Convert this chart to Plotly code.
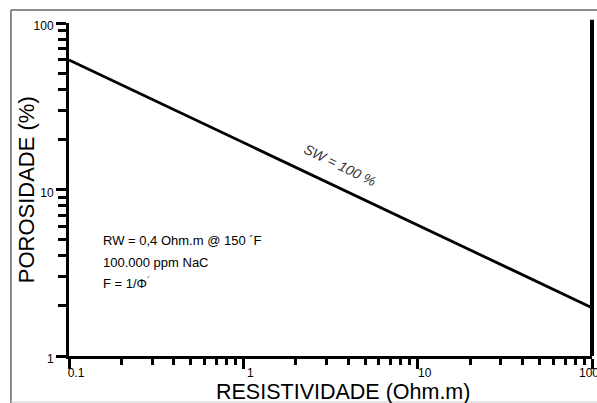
import plotly.graph_objects as go

# Data
resistividade = [0.1, 100]
porosidade = [60, 1.95]

x_tickvals = [0.1, 1, 10, 100]
x_ticktext = ["0.1", "1", "10", "100" + "\u00a0" * 6]
y_tickvals = [1, 10, 100]
y_ticktext = ["1", "10", "100"]

notes = ["RW = 0,4 Ohm.m @ 150 ´F", "100.000 ppm NaC", "F = 1/Φ<sup>´</sup>"]
note_y = [0.348, 0.282, 0.219]
line_label = "SW = 100 %"
x_title = "RESISTIVIDADE (Ohm.m)"
y_title = "POROSIDADE (%)"

FONT = "Liberation Sans, Arial"

fig = go.Figure()
fig.add_trace(go.Scatter(x=resistividade, y=porosidade, mode="lines",
                         line=dict(color="black", width=2.8), showlegend=False,
                         hoverinfo="skip"))

for t, yy in zip(notes, note_y):
    fig.add_annotation(x=0.061, y=yy, xref="paper", yref="paper", text=t, showarrow=False,
                       xanchor="left", yanchor="middle",
                       font=dict(family=FONT, size=13, color="black"))

fig.add_annotation(x=0.518, y=0.574, xref="paper", yref="paper", text="<i>" + line_label + "</i>",
                   showarrow=False, textangle=26,
                   font=dict(family=FONT, size=14, color="#333333"))

# axis titles
fig.add_annotation(x=0.524, y=-0.107, xref="paper", yref="paper", text=x_title, showarrow=False,
                   xanchor="center", yanchor="middle",
                   font=dict(family=FONT, size=21.5, color="black"))
fig.add_annotation(x=-0.082, y=0.498, xref="paper", yref="paper", text=y_title, showarrow=False,
                   xanchor="center", yanchor="middle", textangle=-90,
                   font=dict(family=FONT, size=22, color="black"))

axis_font = dict(family=FONT, size=12, color="black")

fig.update_xaxes(type="log", range=[-1, 2], tickvals=x_tickvals, ticktext=x_ticktext,
                 ticks="outside", ticklen=10, tickwidth=3, tickcolor="black",
                 showline=True, linewidth=3, linecolor="black", showgrid=False, zeroline=False,
                 tickfont=axis_font, automargin=False, ticklabelshift=7, ticklabelstandoff=-6,
                 ticklabeloverflow="allow",
                 minor=dict(ticks="outside", ticklen=6, tickwidth=3, tickcolor="black",
                            dtick="D1", showgrid=False))
fig.update_yaxes(type="log", range=[0, 2], tickvals=y_tickvals, ticktext=y_ticktext,
                 ticks="outside", ticklen=10, tickwidth=3, tickcolor="black",
                 showline=True, linewidth=3, linecolor="black", showgrid=False, zeroline=False,
                 tickfont=axis_font, automargin=False, ticklabelshift=3,
                 ticklabeloverflow="allow",
                 minor=dict(ticks="outside", ticklen=8, tickwidth=3, tickcolor="black",
                            dtick="D1", showgrid=False))

# right thick vertical line and outer frame
fig.add_shape(type="line", xref="paper", yref="paper", x0=1, x1=1, y0=0, y1=1.01,
              line=dict(color="black", width=4))
fig.add_shape(type="line", xref="paper", yref="paper", x0=-0.111, x1=-0.111, y0=-0.145, y1=1.039,
              line=dict(color="#666666", width=1.5))
fig.add_shape(type="line", xref="paper", yref="paper", x0=-0.111, x1=1.02, y0=1.039, y1=1.039,
              line=dict(color="#666666", width=1.5))
fig.add_shape(type="line", xref="paper", yref="paper", x0=-0.111, x1=1.02, y0=-0.138, y1=-0.138,
              line=dict(color="#cccccc", width=1))

fig.update_layout(width=597, height=403, margin=dict(l=69, r=5, t=23, b=47),
                  plot_bgcolor="white", paper_bgcolor="white")

fig.write_html("out.html", post_script="document.body.style.margin='0';",
               config={"displayModeBar": False})
